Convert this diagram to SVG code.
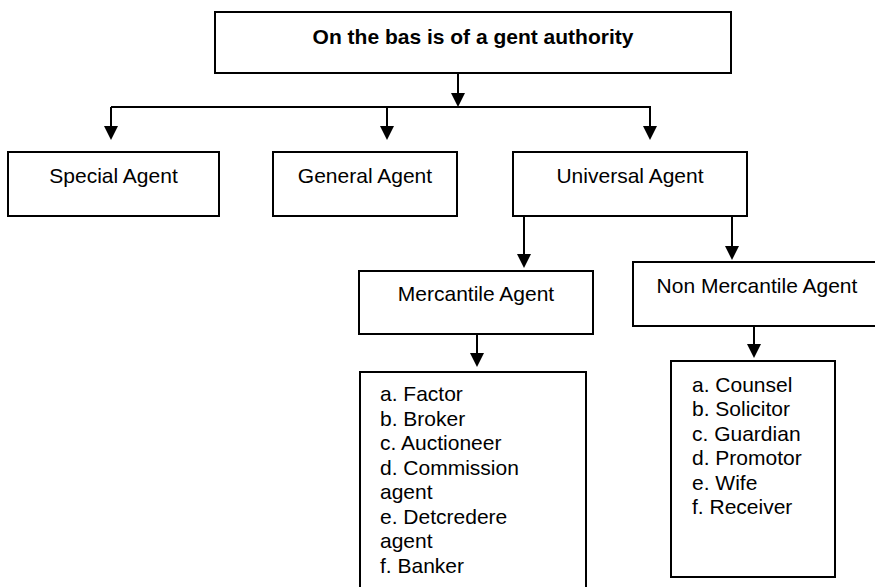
<svg xmlns="http://www.w3.org/2000/svg" width="875" height="587" viewBox="0 0 875 587">
<defs>
<style>
.box{fill:#fff;stroke:#000;stroke-width:2}
.t{font-family:"Liberation Sans",Arial,sans-serif;font-size:21px;fill:#000}
.c{text-anchor:middle}
.b{font-weight:bold}
.ln{fill:none;stroke:#000;stroke-width:2}
</style>
<marker id="ah" viewBox="0 0 14 14" markerWidth="14" markerHeight="14" refX="10" refY="7" orient="auto" markerUnits="userSpaceOnUse">
<path d="M0,0 L14,7 L0,14 z" fill="#000"/>
</marker>
</defs>
<rect width="875" height="587" fill="#fff"/>
<g id="connectors">
<path class="ln" d="M458,73 V103" marker-end="url(#ah)"/>
<path class="ln" d="M111,107 H650"/>
<path class="ln" d="M111,107 V136" marker-end="url(#ah)"/>
<path class="ln" d="M387,107 V136" marker-end="url(#ah)"/>
<path class="ln" d="M650,106 V136" marker-end="url(#ah)"/>
<path class="ln" d="M524,216 V264" marker-end="url(#ah)"/>
<path class="ln" d="M732,216 V256" marker-end="url(#ah)"/>
<path class="ln" d="M477,334 V363" marker-end="url(#ah)"/>
<path class="ln" d="M754,326 V354" marker-end="url(#ah)"/>
</g>
<g id="root">
<rect class="box" x="215" y="12" width="516" height="61"/>
<text class="t b c" x="473" y="44">On the bas is of a gent authority</text>
</g>
<g id="special">
<rect class="box" x="8" y="152" width="211" height="64"/>
<text class="t c" x="113.5" y="183">Special Agent</text>
</g>
<g id="general">
<rect class="box" x="273" y="152" width="184" height="64"/>
<text class="t c" x="365" y="183">General Agent</text>
</g>
<g id="universal">
<rect class="box" x="513" y="152" width="234" height="64"/>
<text class="t c" x="630" y="183">Universal Agent</text>
</g>
<g id="mercantile">
<rect class="box" x="359" y="271" width="234" height="63"/>
<text class="t c" x="476" y="301">Mercantile Agent</text>
</g>
<g id="nonmercantile">
<rect class="box" x="633" y="262" width="250" height="64"/>
<text class="t c" x="757" y="293">Non Mercantile Agent</text>
</g>
<g id="mercantile-list">
<rect class="box" x="360" y="372" width="226" height="230"/>
<text class="t" x="380" y="401">a. Factor</text>
<text class="t" x="380" y="425.5">b. Broker</text>
<text class="t" x="380" y="450">c. Auctioneer</text>
<text class="t" x="380" y="474.5">d. Commission</text>
<text class="t" x="380" y="499">agent</text>
<text class="t" x="380" y="523.5">e. Detcredere</text>
<text class="t" x="380" y="548">agent</text>
<text class="t" x="380" y="572.5">f. Banker</text>
</g>
<g id="nonmercantile-list">
<rect class="box" x="671" y="361" width="164" height="216"/>
<text class="t" x="692" y="392">a. Counsel</text>
<text class="t" x="692" y="416.4">b. Solicitor</text>
<text class="t" x="692" y="440.8">c. Guardian</text>
<text class="t" x="692" y="465.2">d. Promotor</text>
<text class="t" x="692" y="489.6">e. Wife</text>
<text class="t" x="692" y="514">f. Receiver</text>
</g>
</svg>
